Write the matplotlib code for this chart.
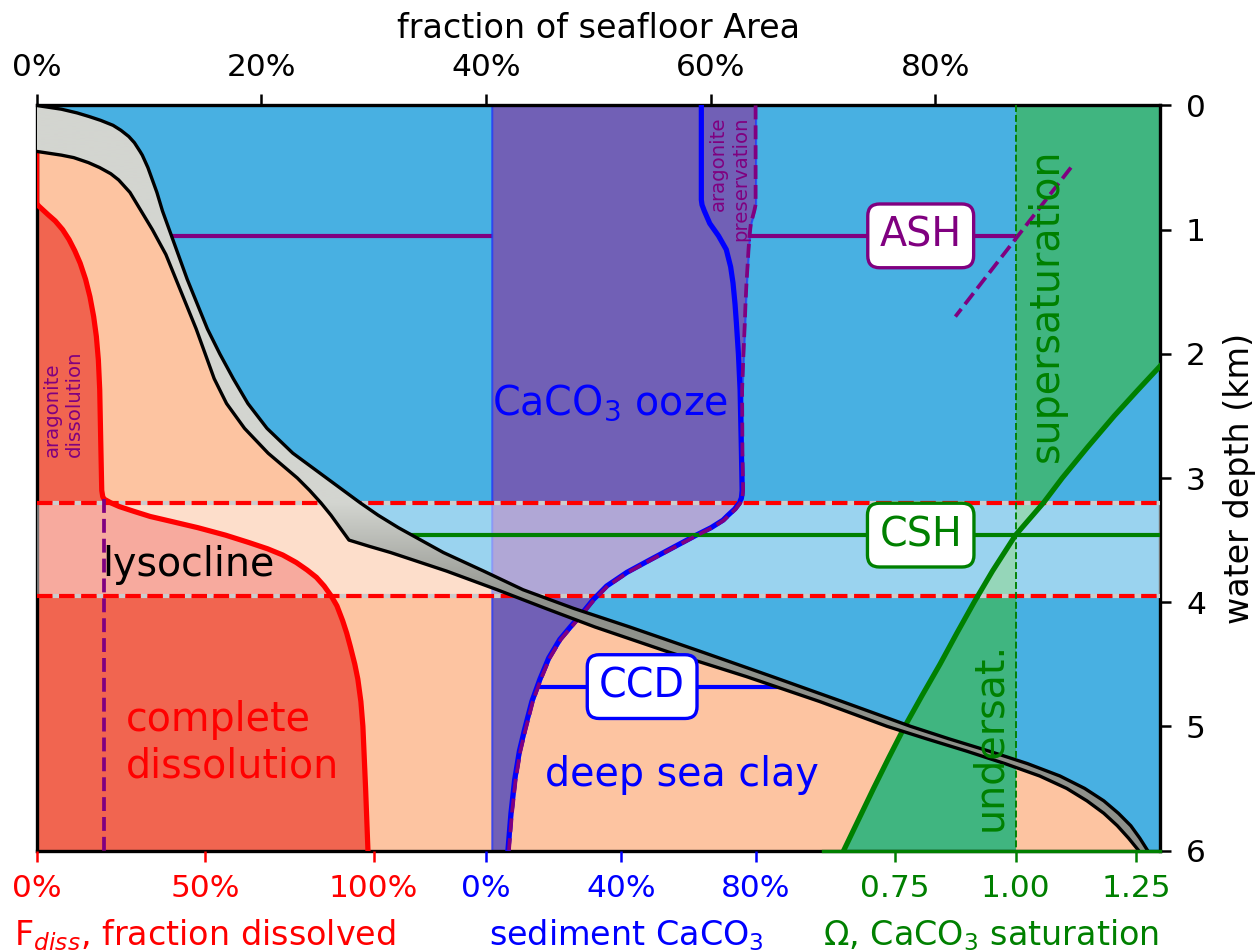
import numpy as np
import matplotlib
matplotlib.use("Agg")
import matplotlib.pyplot as plt
from matplotlib.colors import LinearSegmentedColormap
from matplotlib.patches import Polygon

# seafloor hypsometry: fraction of seafloor area shallower than depth (km)
hyp_depth = np.array([0.00, 0.03, 0.06, 0.09, 0.12, 0.16, 0.20, 0.25, 0.30, 0.37, 0.40,
                      0.42, 0.46, 0.50, 0.55, 0.60, 0.70, 0.85, 1.00, 1.20, 1.40, 1.60,
                      1.80, 2.00, 2.20, 2.40, 2.60, 2.80, 3.00, 3.10, 3.20, 3.30, 3.40,
                      3.50, 3.55, 3.60, 3.75, 3.90, 4.05, 4.20, 4.40, 4.60, 4.80, 5.00,
                      5.10, 5.20, 5.30, 5.40, 5.50, 5.60, 5.70, 5.80, 5.90, 6.00])
hyp_upper = np.array([0.000, 0.022, 0.036, 0.047, 0.057, 0.068, 0.075, 0.082, 0.087, 0.092,
                      0.094, 0.095, 0.097, 0.099, 0.101, 0.103, 0.107, 0.112, 0.118, 0.126,
                      0.134, 0.143, 0.152, 0.163, 0.175, 0.188, 0.205, 0.228, 0.258, 0.273,
                      0.288, 0.304, 0.322, 0.342, 0.352, 0.362, 0.398, 0.433, 0.478, 0.528,
                      0.592, 0.655, 0.717, 0.778, 0.812, 0.848, 0.882, 0.911, 0.933, 0.950,
                      0.963, 0.974, 0.982, 0.989])
hyp_lower = np.array([0.000, 0.000, 0.000, 0.000, 0.000, 0.000, 0.000, 0.000, 0.000, 0.000,
                      0.022, 0.033, 0.046, 0.056, 0.066, 0.073, 0.083, 0.093, 0.103, 0.115,
                      0.124, 0.133, 0.142, 0.150, 0.158, 0.169, 0.185, 0.206, 0.232, 0.243,
                      0.253, 0.262, 0.270, 0.278, 0.296, 0.315, 0.365, 0.410, 0.453, 0.497,
                      0.562, 0.632, 0.697, 0.757, 0.792, 0.828, 0.862, 0.893, 0.917, 0.935,
                      0.950, 0.962, 0.972, 0.981])

# fraction of CaCO3 rain dissolved
fdiss_depth = np.array([0.00, 0.79, 0.81, 0.84, 0.88, 0.93, 1.00, 1.08, 1.17, 1.27, 1.40,
                        1.54, 1.70, 1.86, 2.05, 2.29, 2.70, 3.10, 3.15, 3.17, 3.20, 3.23,
                        3.27, 3.31, 3.35, 3.40, 3.46, 3.52, 3.57, 3.62, 3.68, 3.74, 3.80,
                        3.87, 3.95, 4.03, 4.15, 4.25, 4.36, 4.50, 4.62, 4.80, 5.00, 5.50,
                        6.00])
fdiss = np.array([0.000, 0.000, 0.006, 0.018, 0.034, 0.055, 0.077, 0.096, 0.113, 0.129,
                  0.145, 0.158, 0.169, 0.177, 0.183, 0.187, 0.190, 0.193, 0.196, 0.200,
                  0.220, 0.245, 0.290, 0.337, 0.400, 0.478, 0.560, 0.630, 0.685, 0.730,
                  0.770, 0.802, 0.830, 0.853, 0.874, 0.891, 0.908, 0.920, 0.931, 0.944,
                  0.953, 0.962, 0.968, 0.976, 0.983])
arag_fdiss = 0.20
arag_fdiss_top = 3.17

# sediment CaCO3 content, calcite only and with aragonite
sed_depth = np.array([0.00, 0.76, 0.80, 0.85, 0.90, 0.95, 1.05, 1.16, 1.30, 1.43, 1.60,
                      1.75, 2.00, 2.29, 2.80, 3.10, 3.16, 3.20, 3.25, 3.30, 3.34, 3.40,
                      3.46, 3.56, 3.66, 3.76, 3.87, 3.98, 4.09, 4.20, 4.30, 4.45, 4.62,
                      4.80, 5.03, 5.20, 5.43, 5.70, 6.00])
sed_calcite = np.array([0.639, 0.639, 0.641, 0.648, 0.656, 0.664, 0.690, 0.713, 0.726,
                        0.733, 0.739, 0.743, 0.749, 0.754, 0.758, 0.760, 0.758, 0.752,
                        0.738, 0.718, 0.703, 0.668, 0.624, 0.555, 0.486, 0.418, 0.358,
                        0.318, 0.285, 0.250, 0.219, 0.186, 0.160, 0.136, 0.114, 0.099,
                        0.085, 0.074, 0.065])
sed_total = np.array([0.800, 0.800, 0.800, 0.796, 0.791, 0.786, 0.782, 0.779, 0.776,
                      0.773, 0.770, 0.768, 0.764, 0.760, 0.761, 0.763, 0.761, 0.755,
                      0.741, 0.721, 0.706, 0.671, 0.627, 0.558, 0.489, 0.421, 0.361,
                      0.321, 0.288, 0.253, 0.222, 0.189, 0.163, 0.139, 0.117, 0.102,
                      0.088, 0.077, 0.068])
ooze_left = 0.017

# saturation state of calcite (continues above the axis range) and aragonite
omega_depth = np.array([0.00, 1.00, 1.50, 2.10, 2.30, 2.50, 2.75, 3.00, 3.20, 3.46, 3.75,
                        4.00, 4.25, 4.50, 4.75, 5.00, 5.25, 5.50, 5.75, 6.00])
omega = np.array([1.800, 1.560, 1.440, 1.300, 1.252, 1.205, 1.150, 1.097, 1.058, 1.000,
                  0.952, 0.914, 0.878, 0.843, 0.806, 0.770, 0.737, 0.705, 0.674, 0.643])
omega_arag_depth = np.array([0.50, 1.70])
omega_arag = np.array([1.115, 0.875])

ash_depth = 1.05
csh_depth = 3.46
ccd_depth = 4.68
ccd_span = [0.154, 0.871]
lysocline = [3.20, 3.95]

c_ocean = '#48b0e2'
c_sed = '#fdc4a1'
c_diss = '#f16550'
c_ooze = '#7160b6'
c_super = '#40b580'
purple = '#800080'
green = '#008000'

fig = plt.figure(figsize=(8.38, 6.3467), dpi=150)
ax = fig.add_axes([0.0292, 0.1066, 0.8936, 0.7826])
ax_red = ax.twiny()
ax_sed = ax.twiny()
ax_om = ax.twiny()


def fit_section(tw, v0, v1, f0, f1):
    # map values v0..v1 onto fraction f0..f1 of the shared width
    span = (v1 - v0) / (f1 - f0)
    tw.set_xlim(v0 - f0 * span, v0 + (1 - f0) * span)


fit_section(ax_red, 0, 1, 0, 0.3)
fit_section(ax_sed, 0, 1, 0.4, 0.7)
fit_section(ax_om, 0.6, 1.3, 0.7, 1.0)
ax.set_xlim(0, 1)
ax.set_ylim(6, 0)
t_red = ax_red.transData
t_sed = ax_sed.transData
t_om = ax_om.transData

ax.set_facecolor(c_ocean)

# seafloor sediment
ax.fill_betweenx(hyp_depth, 0, hyp_lower, color=c_sed, lw=0, zorder=1)

# aragonite saturation horizon, starts at the seafloor
ash_x0 = np.interp(ash_depth, hyp_depth, hyp_upper)
ax.plot([ash_x0, 1], [ash_depth, ash_depth], color=purple, lw=2, zorder=1.5)

# dissolved fraction
ax.fill_betweenx(fdiss_depth, 0, fdiss, color=c_diss, lw=0, zorder=2, transform=t_red)

# CaCO3 ooze
ax.fill_betweenx(sed_depth, ooze_left, sed_total, facecolor=c_ooze,
                 edgecolor=(0.1, 0.2, 1.0, 0.7), lw=1, zorder=2, transform=t_sed)

# super / under saturation
ax.fill_betweenx(omega_depth, 1.0, omega, color=c_super, lw=0, zorder=2, transform=t_om)

# lysocline band
ax.axhspan(lysocline[0], lysocline[1], color='white', alpha=0.45, lw=0, zorder=3)
for d in lysocline:
    ax.axhline(d, color='red', ls='--', gapcolor='#cccccc', lw=2, zorder=3.5)

# curves
ax.plot(fdiss, fdiss_depth, color='red', lw=2.5, zorder=6, transform=t_red)
ax.plot([arag_fdiss, arag_fdiss], [arag_fdiss_top, 6], color=purple, ls='--', lw=1.8,
        zorder=6, transform=t_red)
ax.plot(sed_calcite, sed_depth, color='blue', lw=2.5, zorder=6, transform=t_sed)
ax.plot(sed_total, sed_depth, color=purple, ls='--', lw=1.8, zorder=6.1, transform=t_sed)
ax.plot(omega, omega_depth, color=green, lw=2.5, zorder=6, transform=t_om)
ax.plot([1.0, 1.0], [0, 6], color=green, ls='--', lw=0.9, zorder=6, transform=t_om)
ax.plot(omega_arag, omega_arag_depth, color=purple, ls='--', lw=1.8, zorder=6, transform=t_om)

csh_x0 = np.interp(csh_depth, hyp_depth, hyp_upper)
ax.plot([csh_x0, 1], [csh_depth, csh_depth], color=green, lw=2, zorder=6)
ax.plot(ccd_span, [ccd_depth, ccd_depth], color='blue', lw=2, zorder=6, transform=t_sed)

# shaded slope band between the two hypsometric curves
band = Polygon(np.column_stack([np.r_[hyp_lower, hyp_upper[::-1]],
                                np.r_[hyp_depth, hyp_depth[::-1]]]),
               closed=True, fc='none', ec='none')
ax.add_patch(band)
zz = np.linspace(0, 6, 400)[:, None]
shade = np.clip((zz - 3.2) / 0.8, 0, 1)
band_cmap = LinearSegmentedColormap.from_list('band', ['#d3d5d0', '#8f918b'])
im = ax.imshow(shade, extent=(0, 1, 6, 0), aspect='auto', cmap=band_cmap,
               vmin=0, vmax=1, zorder=7, interpolation='bilinear')
im.set_clip_path(band)
top = hyp_depth >= 0.37
ax.plot(hyp_upper, hyp_depth, color='black', lw=1.6, zorder=7.5)
ax.plot(hyp_lower[top], hyp_depth[top], color='black', lw=1.6, zorder=7.5)

# labels inside the plot
fs = 19
ax.text(0.0585, 3.79, 'lysocline', fontsize=fs, color='black', va='baseline', zorder=9)
ax.text(0.0795, 4.79, 'complete\ndissolution', fontsize=fs, color='red', va='top',
        ha='left', zorder=9)
ax.text(0.405, 2.49, 'CaCO$_3$ ooze', fontsize=fs, color='blue', va='baseline',
        ha='left', zorder=9)
ax.text(0.574, 5.48, 'deep sea clay', fontsize=fs, color='blue', va='baseline',
        ha='center', zorder=9)
ax.text(0.899, 1.61, 'supersaturation', fontsize=fs, color=green, rotation=90,
        ha='center', va='center', zorder=9)
ax.text(0.849, 5.08, 'undersat.', fontsize=fs, color=green, rotation=90,
        ha='center', va='center', zorder=9)
ax.text(0.024, 2.83, 'aragonite\ndissolution', fontsize=9.5, color=purple, rotation=90,
        ha='center', va='bottom', multialignment='left', zorder=9)
ax.text(0.617, 0.09, 'aragonite\npreservation', fontsize=9.5, color=purple, rotation=90,
        ha='center', va='top', multialignment='right', zorder=9)


def boxed(x, y, s, c):
    ax.text(x, y, s, fontsize=fs, color=c, ha='center', va='center', zorder=9,
            bbox=dict(boxstyle='round,pad=0.3', fc='white', ec=c, lw=1.6))


boxed(0.787, ash_depth, 'ASH', purple)
boxed(0.787, csh_depth, 'CSH', green)
boxed(0.539, ccd_depth, 'CCD', 'blue')

# axes decoration
for tw in (ax_red, ax_sed, ax_om):
    tw.xaxis.tick_bottom()
    for sp in tw.spines.values():
        sp.set_visible(False)

tick_kw = dict(labelsize=15, length=5.5, width=1.2, pad=6)
ax_red.set_xticks([0, 0.5, 1.0], ['0%', '50%', '100%'])
ax_red.tick_params(axis='x', colors='red', **tick_kw)
ax_sed.set_xticks([0, 0.4, 0.8], ['0%', '40%', '80%'])
ax_sed.tick_params(axis='x', colors='blue', **tick_kw)
ax_om.set_xticks([0.75, 1.0, 1.25], ['0.75', '1.00', '1.25'])
ax_om.tick_params(axis='x', colors=green, **tick_kw)
ax_om.spines['bottom'].set_visible(True)
ax_om.spines['bottom'].set_bounds(0.6, 1.3)
ax_om.spines['bottom'].set_color(green)
ax_om.spines['bottom'].set_linewidth(1.6)

ax.xaxis.tick_top()
ax.xaxis.set_label_position('top')
ax.set_xticks([0, 0.2, 0.4, 0.6, 0.8], ['0%', '20%', '40%', '60%', '80%'])
ax.set_xlabel('fraction of seafloor Area', fontsize=16, labelpad=7)
ax.yaxis.tick_right()
ax.yaxis.set_label_position('right')
ax.set_yticks(range(7))
ax.set_ylabel('water depth (km)', fontsize=16, labelpad=8)
ax.tick_params(axis='both', **tick_kw)
ax.tick_params(axis='y', pad=7)
for sp in ax.spines.values():
    sp.set_linewidth(1.6)

ax.text(0.15, -0.127, 'F$_{diss}$, fraction dissolved', transform=ax.transAxes,
        fontsize=16, color='red', ha='center', va='baseline')
ax.text(0.525, -0.127, 'sediment CaCO$_3$', transform=ax.transAxes,
        fontsize=16, color='blue', ha='center', va='baseline')
ax.text(0.85, -0.127, '\u03a9, CaCO$_3$ saturation', transform=ax.transAxes,
        fontsize=16, color=green, ha='center', va='baseline')

ax.set_xlim(0, 1)
ax.set_ylim(6, 0)
fig.savefig('out.png', dpi=150)
